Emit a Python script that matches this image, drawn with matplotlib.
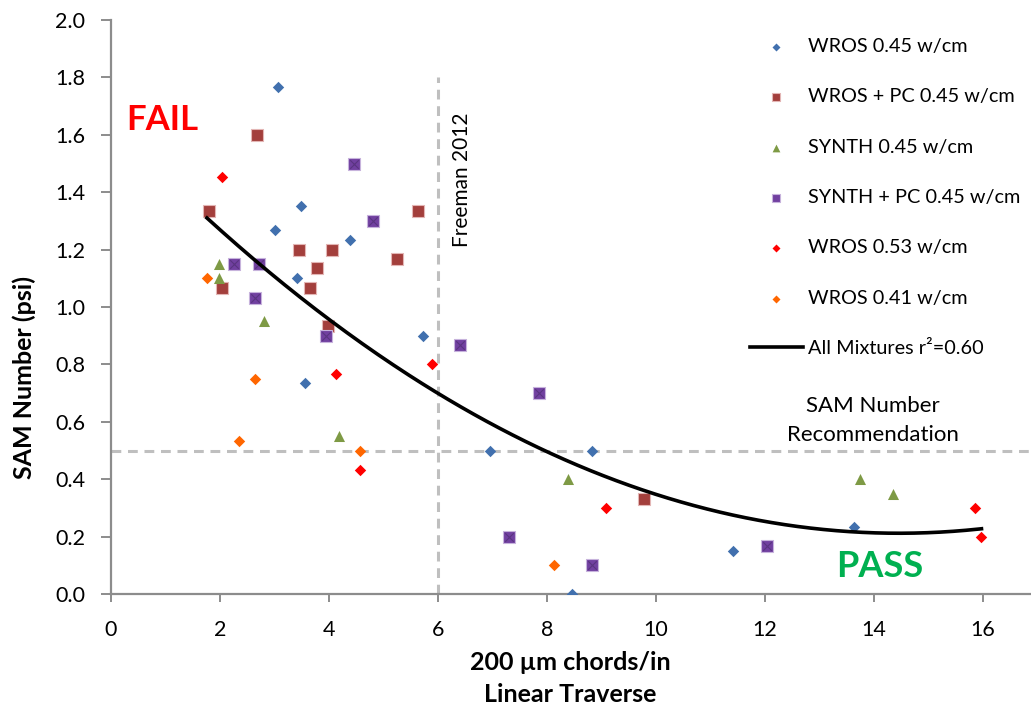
import numpy as np
import matplotlib
matplotlib.use("Agg")
import matplotlib.pyplot as plt

plt.rcParams['font.family'] = ['Lato', 'DejaVu Sans']

# ---- data ----
wros45_x = [3.06, 3.49, 3.01, 4.39, 3.41, 3.55, 5.72, 6.95, 8.82, 8.46, 13.63, 11.42]
wros45_y = [1.768, 1.352, 1.267, 1.233, 1.10, 0.734, 0.90, 0.50, 0.50, 0.0, 0.234, 0.149]

wrospc_x = [2.68, 1.79, 3.44, 4.06, 3.78, 2.03, 3.65, 3.99, 5.64, 5.25, 9.77]
wrospc_y = [1.60, 1.336, 1.20, 1.20, 1.135, 1.067, 1.067, 0.934, 1.336, 1.167, 0.332]

synth_x = [1.99, 1.99, 2.81, 4.18, 8.39, 13.74, 14.35]
synth_y = [1.15, 1.10, 0.95, 0.549, 0.40, 0.40, 0.347]

synthpc_x = [2.26, 2.72, 2.65, 3.94, 4.45, 4.80, 6.41, 7.85, 7.30, 8.82, 12.04]
synthpc_y = [1.15, 1.15, 1.032, 0.90, 1.50, 1.30, 0.868, 0.70, 0.20, 0.10, 0.167]

wros53_x = [2.03, 4.12, 5.88, 4.57, 9.08, 15.85, 15.97]
wros53_y = [1.452, 0.768, 0.80, 0.432, 0.30, 0.30, 0.20]

wros41_x = [1.76, 2.64, 2.35, 4.57, 8.13]
wros41_y = [1.10, 0.75, 0.532, 0.50, 0.10]

series_labels = ["WROS 0.45 w/cm", "WROS + PC 0.45 w/cm", "SYNTH 0.45 w/cm",
                 "SYNTH + PC 0.45 w/cm", "WROS 0.53 w/cm", "WROS 0.41 w/cm"]
trend_label = "All Mixtures r\u00b2=0.60"

x_ticks = [0, 2, 4, 6, 8, 10, 12, 14, 16]
y_ticks = [0.0, 0.2, 0.4, 0.6, 0.8, 1.0, 1.2, 1.4, 1.6, 1.8, 2.0]
freeman_x = 6
sam_rec_y = 0.5

W, H = 1031, 709

# ---- figure ----
fig = plt.figure(figsize=(W/100, H/100), dpi=100)
ax = fig.add_axes([111/W, 1-594/H, (1030-111)/W, (594-20)/H])
ax.set_xlim(0, 16.86)
ax.set_ylim(0, 2.0)

for s in ['top', 'right']:
    ax.spines[s].set_visible(False)
for s in ['left', 'bottom']:
    ax.spines[s].set_color('#8c8c8c')
    ax.spines[s].set_linewidth(1.6)
    ax.spines[s].set_zorder(1)

ax.set_xticks(x_ticks)
ax.set_yticks(y_ticks)
ax.set_yticklabels([f"{v:.1f}" for v in y_ticks])
ax.tick_params(axis='both', direction='out', width=1.4, color='#8c8c8c',
               labelsize=15.5, labelcolor='black')
ax.tick_params(axis='x', length=6, pad=13)
ax.tick_params(axis='y', length=7.5, pad=11)

# reference lines
ax.axvline(freeman_x, ymax=1.8/2.0, color='#bfbfbf', lw=2.2, ls=(0, (3.2, 2.2)), zorder=1)
ax.axhline(sam_rec_y, color='#bfbfbf', lw=2.2, ls=(0, (3.2, 2.2)), zorder=1)

ms = 6.5
ax.scatter(wros45_x, wros45_y, marker='D', s=ms**2*0.8, color='#4170AE', label=series_labels[0], zorder=3, linewidths=0)
ax.scatter(wrospc_x, wrospc_y, marker='s', s=ms**2*1.6, color='#A33F3C', edgecolors='#E3B6B5', linewidths=0.8, label=series_labels[1], zorder=3)
ax.scatter(synth_x, synth_y, marker='^', s=ms**2*1.5, color='#7E9A45', label=series_labels[2], zorder=3, linewidths=0)
ax.scatter(synthpc_x, synthpc_y, marker='s', s=ms**2*1.6, color='#7140A0', edgecolors='#C7B3DC', linewidths=0.8, label=series_labels[3], zorder=3)
ax.scatter(synthpc_x, synthpc_y, marker='x', s=ms**2*0.9, color='#5A3480', linewidths=0.8, zorder=4)
ax.scatter(wros53_x, wros53_y, marker='D', s=ms**2*0.8, color='#FF0000', label=series_labels[4], zorder=3, linewidths=0)
ax.scatter(wros41_x, wros41_y, marker='D', s=ms**2*0.8, color='#FF6600', label=series_labels[5], zorder=3, linewidths=0)

# polynomial (order 2) trendline over all mixtures
all_x = np.concatenate([wros45_x, wrospc_x, synth_x, synthpc_x, wros53_x, wros41_x])
all_y = np.concatenate([wros45_y, wrospc_y, synth_y, synthpc_y, wros53_y, wros41_y])
coef = np.polyfit(all_x, all_y, 2)
xx = np.linspace(all_x.min(), all_x.max(), 300)
ax.plot(xx, np.polyval(coef, xx), color='black', lw=2.6, label=trend_label, zorder=5)

# annotations
ax.text(0.275, 1.652, "FAIL", color='#FF0000', fontsize=25, fontweight='bold', ha='left', va='center')
ax.text(14.1, 0.095, "PASS", color='#00B050', fontsize=26, fontweight='bold', ha='center', va='center')
ax.text(6.44, 1.442, "Freeman 2012", rotation=90, fontsize=15, ha='center', va='center')
ax.text(13.98, 0.655, "SAM Number", fontsize=16, ha='center', va='center')
ax.text(13.98, 0.553, "Recommendation", fontsize=16, ha='center', va='center')

# axis titles
fig.text(32/W, 1-377.5/H, "SAM Number (psi)", rotation=90, rotation_mode='anchor',
         fontsize=18, fontweight='bold', ha='center', va='baseline')
fig.text(570/W, 1-670/H, "200 \u00b5m chords/in", fontsize=18, fontweight='bold',
         ha='center', va='baseline')
fig.text(570/W, 1-702/H, "Linear Traverse", fontsize=18, fontweight='bold',
         ha='center', va='baseline')

leg = ax.legend(loc='upper left', bbox_to_anchor=(750/W, 1-38/H),
                bbox_transform=fig.transFigure, frameon=False, fontsize=14.3,
                handlelength=2.65, handletextpad=0.28, labelspacing=1.68, borderaxespad=0,
                borderpad=0, scatterpoints=1, markerscale=0.7)

fig.savefig("out.png", dpi=100)
